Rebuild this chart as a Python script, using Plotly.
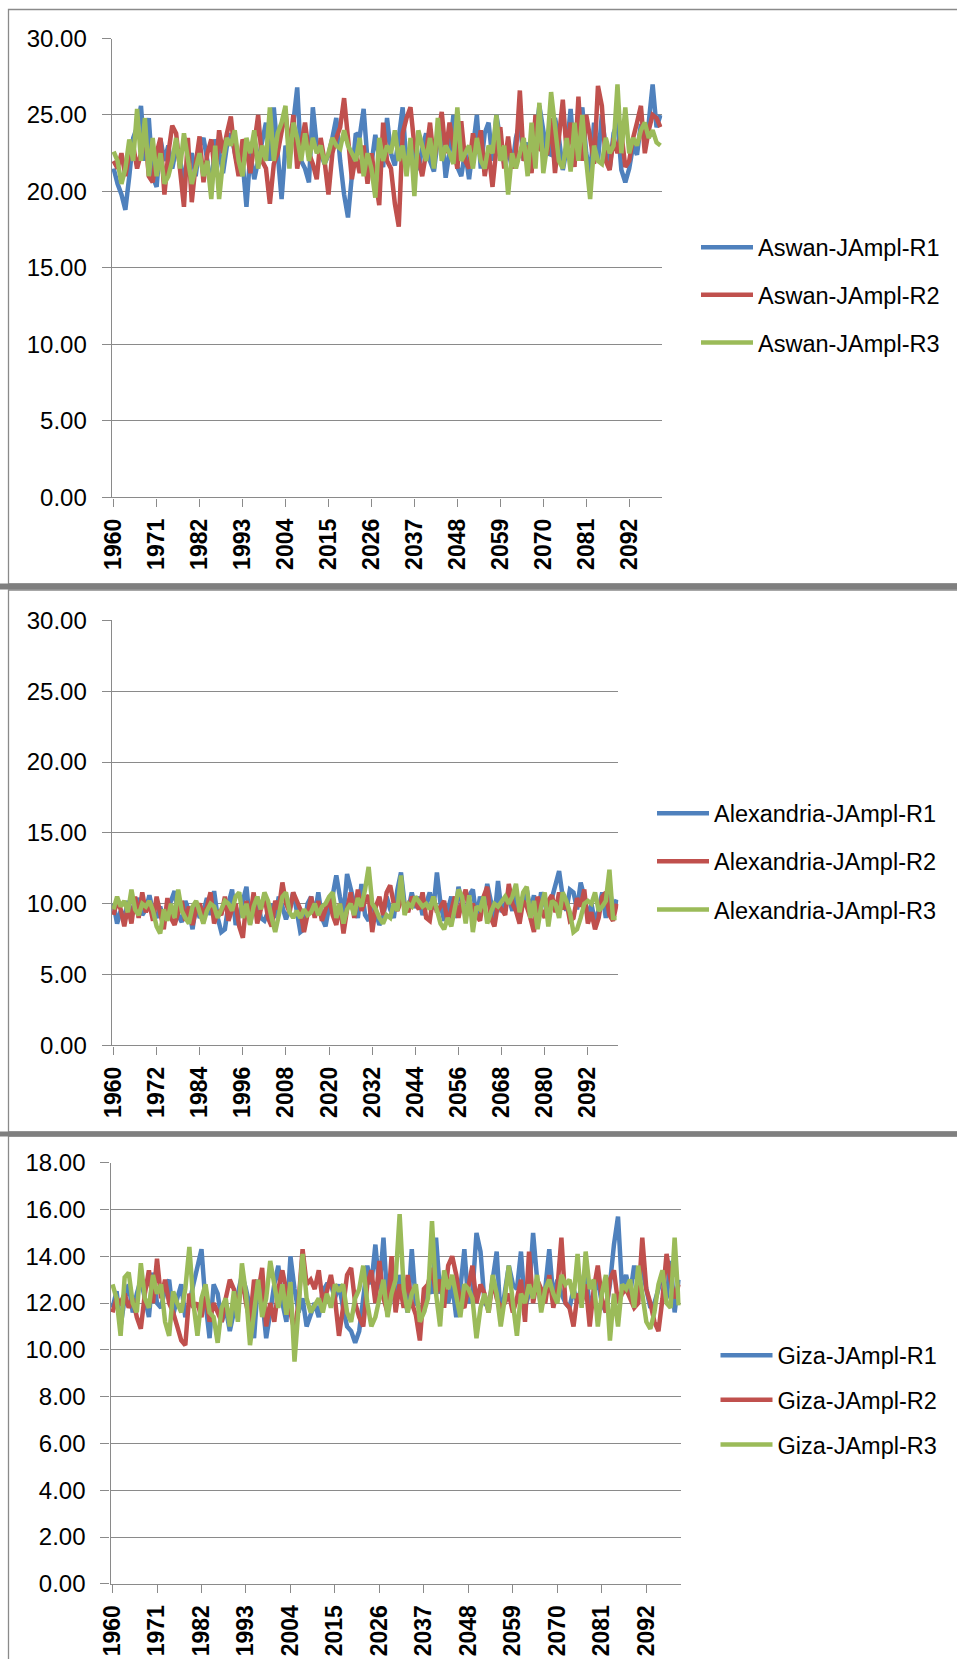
import plotly.graph_objects as go

W, H = 957, 1659
years = list(range(1960, 2101))

aswan_r1 = [21.5, 20.5, 19.8, 18.8, 21.0, 23.5, 24.2, 25.6, 22.0, 24.8,
            21.0, 20.3, 23.4, 22.0, 23.0, 21.5, 22.8, 22.0, 20.8, 21.8,
            22.5, 21.0, 23.0, 23.5, 22.0, 20.0, 23.4, 22.6, 21.2, 23.0,
            23.8, 22.5, 21.4, 22.0, 19.0, 22.5, 20.8, 22.0, 23.4, 24.5,
            22.0, 25.5, 22.5, 19.5, 23.0, 22.2, 24.5, 26.8, 22.0, 21.5,
            20.6, 25.5, 23.0, 22.5, 21.8, 22.4, 23.5, 24.8, 22.0, 19.8,
            18.3, 21.0, 23.8, 23.6, 25.4, 22.0, 21.8, 23.7, 22.2, 21.6,
            24.8, 22.5, 21.7, 23.5, 25.5, 21.5, 23.0, 22.6, 21.4, 22.8,
            23.8, 22.0, 21.3, 23.4, 24.0, 20.9, 22.6, 25.0, 21.6, 21.0,
            22.6, 20.8, 23.0, 25.0, 21.5, 23.8, 24.5, 22.0, 25.0, 23.2,
            21.8, 22.8, 21.5, 23.5, 24.5, 22.0, 23.2, 21.4, 23.5, 25.6,
            24.0, 22.5, 22.4, 24.8, 23.5, 21.4, 22.8, 25.4, 22.0, 23.5,
            25.5, 22.5, 21.0, 24.5, 22.0, 25.0, 22.8, 21.5, 23.8, 24.5,
            21.4, 20.6, 21.5, 23.0, 22.4, 24.4, 23.5, 24.5, 27.0, 24.2,
            25.0]
aswan_r2 = [22.0, 21.5, 22.5, 21.0, 22.5, 23.0, 21.5, 22.5, 24.0, 21.0,
            20.6, 22.5, 23.5, 19.8, 22.5, 24.3, 23.8, 21.0, 19.0, 23.5,
            19.3, 21.8, 23.6, 20.6, 22.5, 23.4, 21.0, 24.0, 22.5, 23.8,
            24.9, 22.5, 21.0, 23.4, 22.8, 21.2, 23.0, 25.0, 22.0, 21.5,
            19.2, 21.8, 22.5, 24.0, 25.3, 22.6, 25.0, 21.5, 23.0, 24.5,
            22.5, 21.8, 20.8, 23.5, 22.0, 19.8, 22.5, 23.5, 24.2, 26.1,
            23.5, 20.8, 22.4, 21.2, 23.0, 20.5, 22.5, 21.0, 19.1, 24.5,
            22.0, 21.5, 19.2, 17.7, 23.8, 24.8, 25.5, 23.0, 22.2, 21.0,
            22.5, 24.5, 22.0, 23.5, 25.2, 22.5, 24.5, 23.0, 21.5, 24.6,
            22.0, 21.5, 23.8, 22.5, 24.0, 21.0, 22.6, 20.3, 22.8, 24.2,
            21.5, 23.6, 21.5, 22.5, 26.6, 22.0, 23.0, 21.2, 25.0, 22.8,
            22.6, 22.4, 24.8, 21.2, 23.5, 26.0, 22.5, 24.5, 21.6, 26.2,
            22.0, 25.0, 23.5, 21.8, 26.9, 25.6, 22.0, 21.4, 23.5, 22.5,
            23.8, 21.6, 22.0, 23.5, 24.5, 25.6, 22.5, 24.0, 25.0, 24.8,
            24.2]
aswan_r3 = [22.6, 22.0, 20.5, 21.5, 23.4, 22.0, 25.4, 22.0, 24.8, 21.0,
            23.5, 21.0, 22.5, 20.5, 21.0, 22.0, 23.5, 21.5, 23.8, 22.0,
            20.5, 21.5, 22.5, 21.0, 22.0, 19.5, 23.0, 19.5, 22.0, 23.5,
            23.0, 24.0, 22.0, 21.0, 23.5, 22.5, 24.0, 21.5, 23.0, 22.0,
            25.5, 22.0, 23.8, 24.5, 25.6, 21.5, 24.5, 23.5, 22.0, 23.8,
            22.0, 23.5, 22.5, 23.0, 21.8, 22.5, 23.5, 23.0, 22.8, 24.0,
            23.0, 22.5, 22.0, 23.5, 21.0, 22.5, 21.5, 19.6, 23.5, 22.0,
            23.0, 22.5, 24.0, 22.0, 23.0, 21.0, 23.5, 19.7, 24.0, 23.0,
            22.0, 23.5, 21.5, 24.8, 22.0, 23.0, 22.5, 21.8, 25.5, 22.0,
            22.5, 23.0, 21.5, 23.5, 22.0, 21.5, 23.0, 22.5, 25.0, 22.0,
            23.0, 19.8, 22.5, 21.5, 22.5, 23.5, 21.0, 24.5, 21.5, 25.8,
            21.2, 23.0, 26.5, 24.0, 22.0, 21.5, 23.5, 21.3, 24.5, 22.0,
            25.0, 22.0, 19.5, 23.0, 22.0, 21.8, 23.5, 22.5, 23.0, 27.0,
            22.5, 25.5, 22.5, 23.5, 23.0, 24.0, 24.5, 23.5, 24.0, 23.2,
            23.0]

alex_r1 = [10.0, 8.6, 9.5, 9.0, 10.2, 9.4, 9.8, 10.4, 9.2, 9.6,
           10.6, 9.4, 9.0, 9.8, 8.8, 9.5, 10.0, 10.9, 9.2, 8.7,
           10.2, 9.5, 8.2, 10.0, 9.0, 9.4, 10.4, 9.2, 10.9, 9.0,
           8.0, 8.2, 10.0, 11.0, 8.5, 9.2, 10.2, 11.2, 8.6, 9.8,
           10.5, 9.0, 8.8, 9.5, 10.0, 9.0, 10.5, 9.8, 8.9, 9.6,
           10.8, 9.5, 8.0, 8.2, 10.0, 10.5, 9.2, 10.8, 9.0, 8.4,
           9.8, 10.6, 12.0, 10.5, 9.2, 12.1, 11.0, 9.8, 9.0, 11.4,
           9.2, 8.8, 10.0, 9.4, 8.5, 9.0, 10.5, 9.6, 9.0, 11.0,
           12.2, 10.0, 9.5, 10.8, 9.7, 10.5, 9.2, 10.0, 10.8, 9.6,
           12.2, 10.0, 8.8, 9.5, 10.5, 9.0, 11.2, 10.0, 9.2, 10.6,
           11.0, 9.0, 10.5, 9.5, 11.4, 10.2, 9.0, 11.6, 9.4, 10.0,
           10.4, 9.5, 10.8, 9.2, 10.0, 11.0, 9.5, 10.6, 9.0, 10.8,
           10.0, 9.2, 10.4, 11.5, 12.3, 10.5, 9.5, 11.0, 10.8, 9.6,
           11.5, 10.5, 9.0, 10.0, 8.6, 9.6, 10.8, 9.0, 11.2, 9.5,
           10.3]
alex_r2 = [9.2, 10.2, 9.6, 8.4, 9.8, 8.6, 10.5, 9.0, 10.8, 9.4,
           10.0, 8.8, 10.5, 9.4, 8.2, 10.4, 9.0, 8.5, 9.5, 10.2,
           8.8, 9.8, 8.5, 9.6, 10.0, 9.2, 9.8, 10.8, 8.6, 9.5,
           9.2, 10.5, 8.8, 9.6, 10.0, 8.4, 7.6, 10.2, 9.0, 10.8,
           8.6, 9.5, 10.6, 9.0, 8.4, 10.2, 9.6, 11.5, 10.0, 9.4,
           10.8, 10.2, 9.6, 8.0, 9.4, 10.5, 9.0, 10.2, 8.8, 9.6,
           10.4, 9.2, 8.5, 10.0, 7.9, 9.6, 10.8, 9.0, 11.0, 9.5,
           10.2, 10.6, 8.0, 9.8, 10.5, 9.2, 10.8, 11.3, 10.0, 9.5,
           10.2, 10.0, 9.4, 10.5, 10.0, 9.6, 10.8, 9.0, 8.8, 10.5,
           9.4, 9.8, 10.2, 8.6, 9.5, 10.5, 9.0, 10.2, 11.0, 9.4,
           10.0, 9.2, 8.8, 10.5, 11.2, 9.0, 8.4, 10.0, 9.6, 9.2,
           11.4, 10.0, 9.5, 8.6, 10.2, 9.8, 9.0, 8.0, 10.5, 9.6,
           9.0, 10.2, 10.6, 9.4, 10.8, 9.6, 10.2, 8.8, 9.0, 10.4,
           9.8, 11.0, 8.6, 9.4, 8.2, 9.0, 10.5, 10.8, 9.2, 8.8,
           10.0]
alex_r3 = [9.6, 10.5, 9.8, 10.2, 9.4, 11.0, 9.6, 9.2, 10.0, 9.8,
           10.2, 9.5, 8.4, 7.9, 9.6, 8.8, 10.0, 9.0, 11.0, 9.5,
           9.0, 8.6, 9.8, 10.2, 9.4, 8.6, 9.5, 10.0, 9.8, 9.0,
           9.6, 10.2, 10.0, 9.5, 10.5, 10.8, 9.0, 10.0, 8.5, 9.8,
           10.5, 9.6, 10.8, 10.2, 9.0, 8.0, 9.2, 10.5, 10.8, 9.4,
           9.0, 9.5, 9.0, 9.6, 9.2, 9.4, 10.0, 9.2, 9.8, 10.0,
           10.5, 10.8, 9.0, 10.0, 8.6, 9.6, 10.0, 9.2, 10.4, 9.8,
           11.0, 12.6, 10.0, 9.6, 9.0, 8.6, 9.2, 9.0, 10.0, 9.5,
           12.0, 9.2, 10.0, 9.8, 10.5, 10.2, 9.8, 10.0, 9.6, 10.5,
           9.5, 8.6, 8.2, 9.0, 8.4, 9.8, 11.0, 10.5, 8.6, 10.6,
           8.0, 9.8, 9.6, 10.5, 8.6, 9.4, 10.0, 9.8, 10.2, 10.5,
           10.0, 10.5, 11.4, 9.4, 10.8, 11.2, 9.0, 10.2, 8.2, 9.8,
           10.8, 8.4, 10.2, 10.0, 9.0, 10.8, 10.2, 9.4, 8.0, 8.2,
           9.0, 10.0, 10.2, 10.0, 10.8, 9.5, 9.8, 10.2, 12.4, 9.0,
           9.0]

giza_r1 = [11.8, 12.5, 11.0, 12.2, 12.8, 11.6, 12.4, 13.0, 12.2, 11.4,
           13.3, 12.0, 11.8, 12.6, 13.0, 11.5, 12.2, 12.8, 11.4, 12.0,
           12.8, 13.5, 14.3, 12.0, 10.5, 12.8, 12.4, 11.2, 11.8, 10.8,
           11.6, 12.4, 13.2, 12.6, 11.8, 10.5, 13.0, 12.2, 10.5, 11.6,
           12.8, 13.6, 12.0, 11.2, 14.0, 12.6, 11.6, 12.2, 11.0, 11.5,
           12.0, 11.4, 12.5, 12.8, 12.8, 12.2, 12.8, 11.8, 11.0, 10.8,
           10.3, 10.8, 12.2, 13.6, 12.8, 14.5, 12.6, 14.8, 12.0, 13.0,
           11.8, 13.2, 12.4, 11.6, 14.3, 12.0, 11.8, 11.6, 12.8, 12.4,
           14.8, 12.4, 13.2, 12.0, 12.8, 11.4, 12.6, 14.3, 12.0, 12.4,
           15.0, 14.2, 12.0, 11.8, 13.0, 14.2, 11.3, 12.5, 13.6, 12.8,
           12.6, 14.2, 11.8, 12.4, 15.0, 13.0, 11.8, 12.6, 14.3, 12.2,
           13.0, 12.4, 12.0, 11.8, 12.6, 12.0, 12.8, 13.5, 11.8, 12.4,
           13.0, 12.0, 11.6, 12.8, 14.5, 15.7, 12.6, 13.2, 12.4, 13.6,
           12.8, 13.4, 12.6, 11.8, 12.0, 12.6, 13.2, 12.2, 13.8, 11.6,
           13.0]
giza_r2 = [11.6, 12.2, 12.0, 12.4, 11.8, 12.2, 11.4, 10.9, 12.4, 13.4,
           12.0, 13.9, 12.2, 13.0, 12.0, 11.6, 11.0, 10.4, 10.2, 12.4,
           11.8, 12.0, 11.4, 12.5, 11.2, 12.0, 11.6, 11.2, 12.2, 13.0,
           12.6, 11.6, 13.2, 12.0, 11.2, 13.0, 12.4, 13.5, 11.0, 12.0,
           11.2, 12.6, 13.4, 12.4, 11.6, 10.8, 12.0, 14.3, 12.8, 13.0,
           12.6, 13.4, 12.0, 12.5, 13.2, 12.2, 10.6, 11.8, 13.2, 13.5,
           12.0, 11.4, 11.0, 12.8, 13.4, 12.0, 13.8, 12.2, 11.6, 14.0,
           11.6, 12.8, 11.8, 13.2, 12.0, 11.5, 10.4, 12.6, 12.8, 13.5,
           12.4, 13.0, 11.8, 13.6, 14.0, 13.2, 12.0, 11.8, 12.6, 13.6,
           12.0, 12.8, 12.4, 11.6, 13.0, 12.2, 11.8, 12.0, 12.4, 11.6,
           12.2, 13.0, 11.2, 14.2, 12.0, 13.0, 12.6, 12.0, 13.2, 11.8,
           12.6, 14.8, 12.0, 11.8, 11.0, 12.4, 12.0, 12.8, 11.0, 12.6,
           13.6, 12.2, 11.6, 13.0, 13.4, 12.0, 12.4, 12.6, 12.2, 11.8,
           12.0, 14.8, 12.6, 12.0, 11.2, 10.8, 12.2, 14.1, 13.0, 12.2,
           12.8]
giza_r3 = [12.8, 12.2, 10.6, 13.1, 13.3, 12.0, 11.6, 13.7, 12.2, 11.8,
           13.2, 12.4, 12.8, 11.2, 10.6, 12.5, 12.0, 11.6, 12.6, 14.4,
           12.0, 10.6, 12.2, 12.8, 11.6, 11.4, 10.3, 11.8, 12.2, 11.0,
           12.5, 11.2, 13.7, 12.4, 10.2, 11.8, 13.0, 11.4, 12.2, 13.8,
           12.8, 11.8, 12.8, 11.5, 12.9, 9.5, 11.8, 14.1, 12.2, 11.6,
           11.9, 12.2, 11.6, 12.4, 11.8, 12.8, 12.5, 12.8, 11.6, 11.2,
           12.2, 12.6, 13.6, 12.0, 11.0, 11.4, 12.2, 13.0, 11.4, 12.4,
           13.0, 15.8, 12.6, 11.6, 12.4, 12.8, 11.2, 11.6, 12.2, 15.5,
           12.4, 11.0, 13.4, 12.6, 13.2, 12.4, 11.4, 12.8, 12.6, 12.2,
           10.5, 11.8, 12.4, 11.6, 13.2, 12.4, 11.0, 12.2, 13.6, 12.0,
           10.6, 12.4, 12.0, 12.8, 12.2, 13.2, 11.6, 12.6, 13.0, 12.4,
           12.0, 13.2, 12.8, 13.0, 12.2, 14.1, 11.8, 14.2, 12.6, 13.0,
           11.0, 12.4, 13.2, 10.4, 12.4, 11.0, 12.8, 12.6, 13.0, 11.8,
           13.6, 12.4, 11.2, 10.9, 11.6, 12.8, 13.4, 12.0, 11.8, 14.8,
           11.9]

panels = [
    ("Aswan", [aswan_r1, aswan_r2, aswan_r3], 11, 30, 5),
    ("Alexandria", [alex_r1, alex_r2, alex_r3], 12, 30, 5),
    ("Giza", [giza_r1, giza_r2, giza_r3], 11, 18, 2),
]
colors = ["#4F81BD", "#C0504D", "#9BBB59"]

# pixel geometry (plot areas)
plot_px = [  # x0, x1, ytop, ybottom
    (111.7, 662.4, 38.5, 497.4),
    (111.7, 618.4, 620.4, 1045.4),
    (110.5, 680.7, 1162.7, 1583.8),
]
legend_px = [(696, 225.5), (652, 791.5), (715.5, 1333.5)]
legend_gap = [14.0, 14.5, 11.0]

def fx(p):
    return p / W

def fy(p):
    return 1 - p / H

FONT = "Liberation Sans, Arial, sans-serif"
GRID = "#8a8a8a"

fig = go.Figure()
layout = dict(
    width=W, height=H,
    margin=dict(l=0, r=0, t=0, b=0, pad=0, autoexpand=False),
    paper_bgcolor="white", plot_bgcolor="white",
    font=dict(family=FONT, size=23, color="#000000"),
    showlegend=True,
)

for i, (name, series, step, ymax, dy) in enumerate(panels):
    k = "" if i == 0 else str(i + 1)
    x0, x1, yt, yb = plot_px[i]
    lg = "legend" if i == 0 else "legend" + str(i + 1)
    for j, s in enumerate(series):
        fig.add_trace(go.Scatter(
            x=years, y=s, mode="lines",
            name=f"{name}-JAmpl-R{j + 1}",
            line=dict(color=colors[j], width=4.5),
            xaxis="x" + k, yaxis="y" + k,
            legend=lg, legendgroup=f"{name}{j}",
        ))
    layout["xaxis" + k] = dict(
        domain=[fx(x0), fx(x1)], anchor="y" + k,
        range=[1959.5, 2100.5], automargin=False,
        tickvals=years[::step], ticktext=[str(y) for y in years[::step]],
        tickangle=-90, ticks="outside", ticklen=8, tickcolor=GRID, tickwidth=1.3,
        showline=True, linecolor=GRID, linewidth=1.3,
        showgrid=False, zeroline=False,
        tickfont=dict(family=FONT, size=23, color="#000000", weight="bold"),
        ticklabelstandoff=3,
    )
    layout["yaxis" + k] = dict(
        domain=[fy(yb), fy(yt)], anchor="x" + k,
        range=[0, ymax], dtick=dy, tick0=0, tickformat=".2f", automargin=False,
        ticks="outside", ticklen=9, tickcolor=GRID, tickwidth=1.3,
        showline=True, linecolor=GRID, linewidth=1.3,
        showgrid=True, gridcolor=GRID, gridwidth=1.3, zeroline=False,
        tickfont=dict(family=FONT, size=24, color="#000000"),
        ticklabelstandoff=10,
    )
    lx, ly = legend_px[i]
    layout[lg] = dict(
        x=fx(lx), y=fy(ly), xanchor="left", yanchor="top",
        bgcolor="rgba(0,0,0,0)", borderwidth=0,
        font=dict(family=FONT, size=23.5, color="#000000"),
        tracegroupgap=legend_gap[i], itemwidth=52,
    )

fig.update_layout(**layout)

# chart frames (Excel-style borders)
FR = "#8a8a8a"
frames = [(9.5, 584), (590, 1132), (1136, 1700)]
for (t, b) in frames:
    fig.add_shape(type="rect", xref="paper", yref="paper",
                  x0=fx(8.5), x1=fx(980), y0=fy(b), y1=fy(t),
                  line=dict(color=FR, width=1.3), fillcolor="rgba(0,0,0,0)", layer="below")
for (t, b) in [(583.5, 589.5), (1131.5, 1136.5)]:
    fig.add_shape(type="rect", xref="paper", yref="paper",
                  x0=0, x1=1, y0=fy(b), y1=fy(t),
                  line=dict(width=0), fillcolor="#7f7f7f", layer="below")

fig.write_html(
    "out.html",
    post_script="document.documentElement.style.margin='0';"
                "document.body.style.margin='0';"
                "document.body.style.overflow='hidden';",
)
